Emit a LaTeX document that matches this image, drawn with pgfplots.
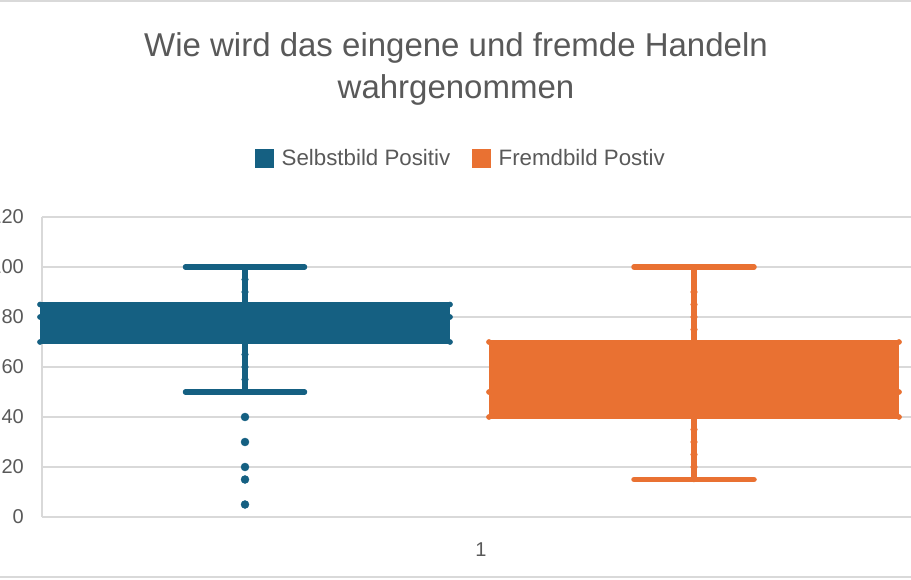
\documentclass[border=0pt]{standalone}
\usepackage{pgfplots}
\pgfplotsset{compat=1.18}
\usepgfplotslibrary{statistics}
\usepackage{fontspec}
\setmainfont{Liberation Sans}
\definecolor{sel}{HTML}{156082}
\definecolor{fremd}{HTML}{E97132}
\definecolor{txt}{HTML}{595959}
\definecolor{gridc}{HTML}{D9D9D9}
\begin{document}
\begin{tikzpicture}
\useasboundingbox (0,0) rectangle (911pt,579pt);
\clip (0,0) rectangle (911pt,579pt);
\draw[gridc, line width=1.5pt] (0,578.2pt) -- (911pt,578.2pt);
\draw[gridc, line width=1.5pt] (0,1.8pt) -- (911pt,1.8pt);
\begin{axis}[
  at={(42pt,62pt)}, anchor=south west,
  scale only axis, width=878pt, height=300pt,
  xmin=42, xmax=920, ymin=0, ymax=120,
  clip=false,
  axis x line*=bottom, axis y line*=left,
  ytick={0,20,...,120},
  xtick={481}, xticklabels={1},
  major tick length=0pt,
  ymajorgrids, grid style={gridc, line width=1.3pt},
  axis line style={gridc, line width=1.3pt},
  /pgf/number format/assume math mode=true,
  tick label style={font=\fontsize{20}{24}\selectfont, text=txt},
  yticklabel style={inner sep=0pt, xshift=-18pt},
  xticklabel style={inner sep=0pt, yshift=-26pt},
  legend style={at={(axis cs:461,143.6)}, anchor=center, draw=none, fill=none,
    font=\fontsize{22.3}{26}\selectfont, text=txt, legend columns=-1,
    /tikz/every odd column/.style={column sep=6pt},
    /tikz/every even column/.style={column sep=20pt}, cells={anchor=west}},
  boxplot/draw direction=y,
  boxplot/every whisker/.style={line width=5.5pt, line cap=round},
  boxplot/every box/.style={line width=4pt},
  boxplot/every median/.style={line width=4pt},
]
\addlegendimage{legend image code/.code={\fill[sel] (0pt,-9pt) rectangle (18pt,9pt);}}
\addlegendentry{Selbstbild Positiv}
\addlegendimage{legend image code/.code={\fill[fremd] (0pt,-9pt) rectangle (18pt,9pt);}}
\addlegendentry{Fremdbild Postiv}

% Selbstbild Positiv
\addplot[draw=sel, fill=sel, forget plot,
  boxplot prepared={draw position=245, lower whisker=50, lower quartile=70,
    median=80, upper quartile=85, upper whisker=100,
    box extend=406, whisker extend=119}] coordinates {};
\addplot[only marks, mark=*, mark size=3.3pt, color=sel, forget plot]
  coordinates {(245,95) (245,90) (245,65) (245,60) (245,55)};
\addplot[only marks, mark=*, mark size=2.6pt, color=sel, forget plot]
  coordinates {(40,85) (40,80) (40,70) (450,85) (450,80) (450,70)};
\addplot[only marks, mark=*, mark size=4pt, color=sel, forget plot]
  coordinates {(245,40) (245,30) (245,20) (245,15) (245,5)};

% Fremdbild Postiv
\addplot[draw=fremd, fill=fremd, forget plot,
  boxplot prepared={draw position=694, lower whisker=15, lower quartile=40,
    median=50, upper quartile=70, upper whisker=100,
    box extend=406, whisker extend=120}] coordinates {};
\addplot[only marks, mark=*, mark size=3.3pt, color=fremd, forget plot]
  coordinates {(694,90) (694,85) (694,80) (694,75) (694,35) (694,30) (694,25) (694,20)};
\addplot[only marks, mark=*, mark size=2.6pt, color=fremd, forget plot]
  coordinates {(489,70) (489,50) (489,40) (899,70) (899,50) (899,40)};
\end{axis}
\node[text=txt, font=\fontsize{33}{43}\selectfont, anchor=base] at (456pt,522pt) {Wie wird das eingene und fremde Handeln};
\node[text=txt, font=\fontsize{33}{43}\selectfont, anchor=base] at (456pt,480pt) {wahrgenommen};
\end{tikzpicture}
\end{document}
